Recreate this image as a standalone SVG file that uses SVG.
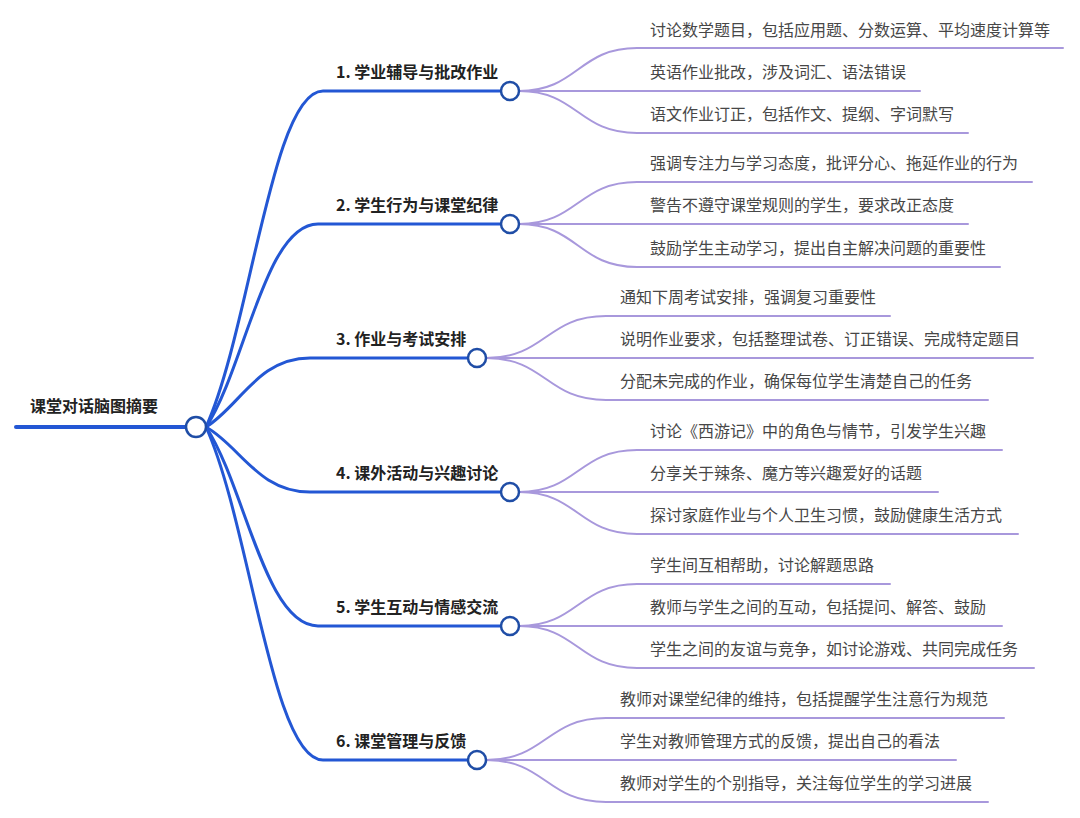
<svg xmlns="http://www.w3.org/2000/svg" width="1080" height="818" viewBox="0 0 1080 818">
<style>
.bl{fill:none;stroke:#2357d4;stroke-width:3;stroke-linecap:round}
.lf{fill:none;stroke:#a898dc;stroke-width:2;stroke-linecap:round}
.dot{fill:#fff;stroke:#1f4da6;stroke-width:2.5}
.rt{font-family:"Noto Sans CJK SC","Noto Sans",sans-serif;font-size:16px;font-weight:700;fill:#222}
.bt{font-family:"Noto Sans CJK SC","Noto Sans",sans-serif;font-size:16px;font-weight:700;fill:#222}
.lt{font-family:"Noto Sans CJK SC","Noto Sans",sans-serif;font-size:16px;fill:#474747}
</style>
<rect width="1080" height="818" fill="#fff"/>
<g id="connectors">
  <path class="bl" d="M16,427 L186,427" style="stroke-width:4"/>
  <path class="bl" d="M206,427 C250,330 272,91 323,91 L501,91"/>
  <path class="bl" d="M206,427 C245,368 265,224 318,224 L501,224"/>
  <path class="bl" d="M206,427 C240,406 258,358 310,358 L468,358"/>
  <path class="bl" d="M206,427 C240,446 258,492 310,492 L501,492"/>
  <path class="bl" d="M206,427 C245,486 265,626 318,626 L501,626"/>
  <path class="bl" d="M206,427 C250,524 272,760 323,760 L468,760"/>
  <path class="lf" d="M519,91 C578,91 578,48 637,48 L1063,48"/>
  <path class="lf" d="M519,91 L920,91"/>
  <path class="lf" d="M519,91 C578,91 578,133 637,133 L968,133"/>
  <path class="lf" d="M519,224 C578,224 578,182 637,182 L1032,182"/>
  <path class="lf" d="M519,224 L968,224"/>
  <path class="lf" d="M519,224 C578,224 578,267 637,267 L1000,267"/>
  <path class="lf" d="M486,358 C546,358 546,316 606,316 L890,316"/>
  <path class="lf" d="M486,358 L1033,358"/>
  <path class="lf" d="M486,358 C546,358 546,400 606,400 L988,400"/>
  <path class="lf" d="M519,492 C578,492 578,450 637,450 L1002,450"/>
  <path class="lf" d="M519,492 L938,492"/>
  <path class="lf" d="M519,492 C578,492 578,534 637,534 L1018,534"/>
  <path class="lf" d="M519,626 C578,626 578,584 637,584 L890,584"/>
  <path class="lf" d="M519,626 L1002,626"/>
  <path class="lf" d="M519,626 C578,626 578,668 637,668 L1034,668"/>
  <path class="lf" d="M486,760 C546,760 546,718 606,718 L1004,718"/>
  <path class="lf" d="M486,760 L956,760"/>
  <path class="lf" d="M486,760 C546,760 546,802 606,802 L988,802"/>
</g>
<g id="root">
  <circle class="dot" cx="196" cy="427" r="10"/>
  <text class="rt" x="30" y="412">课堂对话脑图摘要</text>
</g>
<g id="b1">
  <circle class="dot" cx="510" cy="91" r="9"/>
  <text class="bt" x="336" y="78">1. 学业辅导与批改作业</text>
</g>
<g id="b1l1"><text class="lt" x="650" y="36">讨论数学题目，包括应用题、分数运算、平均速度计算等</text></g>
<g id="b1l2"><text class="lt" x="650" y="78">英语作业批改，涉及词汇、语法错误</text></g>
<g id="b1l3"><text class="lt" x="650" y="120">语文作业订正，包括作文、提纲、字词默写</text></g>
<g id="b2">
  <circle class="dot" cx="510" cy="224" r="9"/>
  <text class="bt" x="336" y="211">2. 学生行为与课堂纪律</text>
</g>
<g id="b2l1"><text class="lt" x="650" y="169">强调专注力与学习态度，批评分心、拖延作业的行为</text></g>
<g id="b2l2"><text class="lt" x="650" y="211">警告不遵守课堂规则的学生，要求改正态度</text></g>
<g id="b2l3"><text class="lt" x="650" y="254">鼓励学生主动学习，提出自主解决问题的重要性</text></g>
<g id="b3">
  <circle class="dot" cx="477" cy="358" r="9"/>
  <text class="bt" x="336" y="345">3. 作业与考试安排</text>
</g>
<g id="b3l1"><text class="lt" x="620" y="303">通知下周考试安排，强调复习重要性</text></g>
<g id="b3l2"><text class="lt" x="620" y="345">说明作业要求，包括整理试卷、订正错误、完成特定题目</text></g>
<g id="b3l3"><text class="lt" x="620" y="387">分配未完成的作业，确保每位学生清楚自己的任务</text></g>
<g id="b4">
  <circle class="dot" cx="510" cy="492" r="9"/>
  <text class="bt" x="336" y="479">4. 课外活动与兴趣讨论</text>
</g>
<g id="b4l1"><text class="lt" x="650" y="437">讨论《西游记》中的角色与情节，引发学生兴趣</text></g>
<g id="b4l2"><text class="lt" x="650" y="479">分享关于辣条、魔方等兴趣爱好的话题</text></g>
<g id="b4l3"><text class="lt" x="650" y="521">探讨家庭作业与个人卫生习惯，鼓励健康生活方式</text></g>
<g id="b5">
  <circle class="dot" cx="510" cy="626" r="9"/>
  <text class="bt" x="336" y="613">5. 学生互动与情感交流</text>
</g>
<g id="b5l1"><text class="lt" x="650" y="571">学生间互相帮助，讨论解题思路</text></g>
<g id="b5l2"><text class="lt" x="650" y="613">教师与学生之间的互动，包括提问、解答、鼓励</text></g>
<g id="b5l3"><text class="lt" x="650" y="655">学生之间的友谊与竞争，如讨论游戏、共同完成任务</text></g>
<g id="b6">
  <circle class="dot" cx="477" cy="760" r="9"/>
  <text class="bt" x="336" y="747">6. 课堂管理与反馈</text>
</g>
<g id="b6l1"><text class="lt" x="620" y="705">教师对课堂纪律的维持，包括提醒学生注意行为规范</text></g>
<g id="b6l2"><text class="lt" x="620" y="747">学生对教师管理方式的反馈，提出自己的看法</text></g>
<g id="b6l3"><text class="lt" x="620" y="789">教师对学生的个别指导，关注每位学生的学习进展</text></g>
</svg>
